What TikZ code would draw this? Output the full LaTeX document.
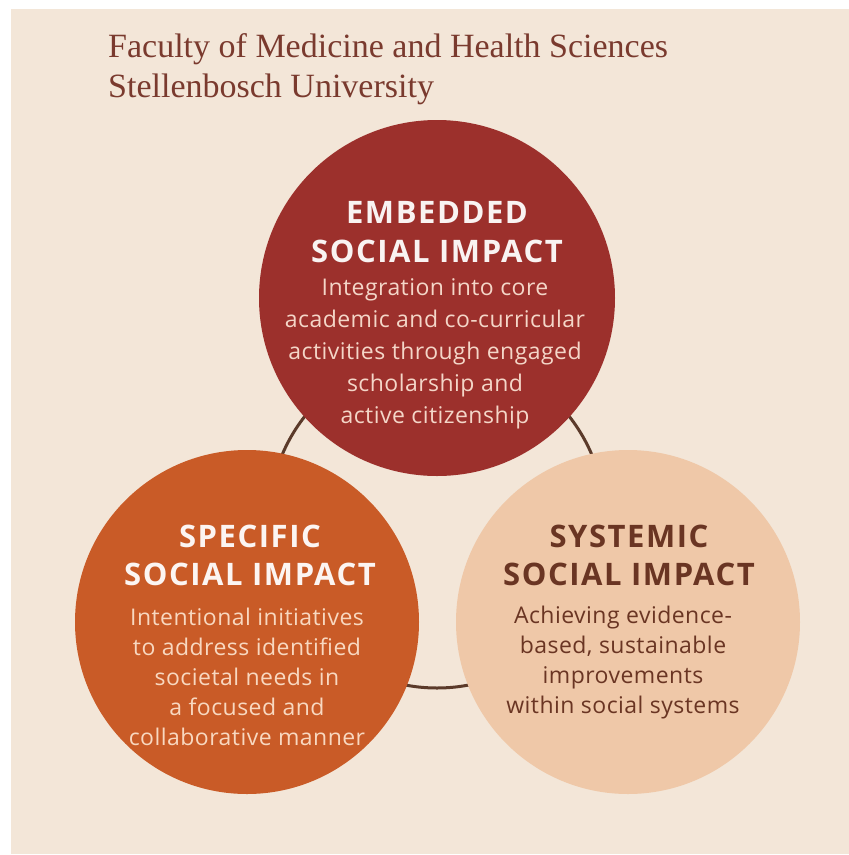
\documentclass[tikz,border=0pt]{standalone}
\usepackage{fontspec}
\setmainfont{Liberation Serif}
\newfontfamily\circfont{Open Sans}[LetterSpace=2]
\newfontfamily\circheadfont{Open Sans}[LetterSpace=5]
\usetikzlibrary{positioning}
\usepackage{xcolor}

\definecolor{panel}{HTML}{F3E6D8}
\definecolor{embedred}{HTML}{9C302C}
\definecolor{specorange}{HTML}{C95B27}
\definecolor{syspeach}{HTML}{EFC8A8}
\definecolor{ringbrown}{HTML}{5B3A2A}
\definecolor{headbrown}{HTML}{7A3A2E}
\definecolor{sysbrown}{HTML}{6A3523}
\definecolor{embedtext}{HTML}{F4D6C8}
\definecolor{spectext}{HTML}{F8D8C0}

\begin{document}
\begin{tikzpicture}[x=1pt,y=-1pt,
  impact/.style={circle,inner sep=0pt,minimum size=344pt},
  % base anchor sits on the last line
  heading/.style={anchor=base,align=center,inner sep=0pt,
    font=\circheadfont\bfseries\fontsize{31}{38}\selectfont},
  blurb/.style={anchor=base,align=center,inner sep=0pt,
    font=\circfont\fontsize{23}{30}\selectfont}]
\useasboundingbox (0,0) rectangle (849,855);
\fill[panel] (11,9) rectangle (849,854);

% faculty name
\node (faculty) [anchor=base west,inner sep=0pt,text=headbrown,align=left,
  font=\fontsize{34}{40}\selectfont] at (108,97)
  {Faculty of Medicine and Health Sciences\\Stellenbosch University};

% ring behind the three circles
\coordinate (hub) at (437,520);
\draw[ringbrown,line width=3pt] (hub) circle[radius=168pt];

\node (embedded) [impact,fill=embedred,minimum size=356pt] at (437,298) {};
\node (specific) [impact,fill=specorange] at (247,622) {};
\node (systemic) [impact,fill=syspeach] at (628,622) {};

% embedded
\node (embedded-head) [heading,text=white!94!embedred,
  font=\circheadfont\bfseries\fontsize{31}{39}\selectfont] at (437,262)
  {EMBEDDED\\SOCIAL IMPACT};
\node (embedded-text) [blurb,text=embedtext,
  font=\circfont\fontsize{23}{32}\selectfont] at (435,423)
  {Integration into core\\academic and co-curricular\\activities through engaged\\scholarship and\\active citizenship};

% specific
\node (specific-head) [heading,text=white!94!specorange] at (250,585)
  {SPECIFIC\\SOCIAL IMPACT};
\node (specific-text) [blurb,text=spectext] at (247,745)
  {Intentional initiatives\\to address identified\\societal needs in\\a focused and\\collaborative manner};

% systemic
\node (systemic-head) [heading,text=sysbrown] at (629,585)
  {SYSTEMIC\\SOCIAL IMPACT};
\node (systemic-text) [blurb,text=sysbrown] at (623,713)
  {Achieving evidence-\\based, sustainable\\improvements\\within social systems};
\end{tikzpicture}
\end{document}
